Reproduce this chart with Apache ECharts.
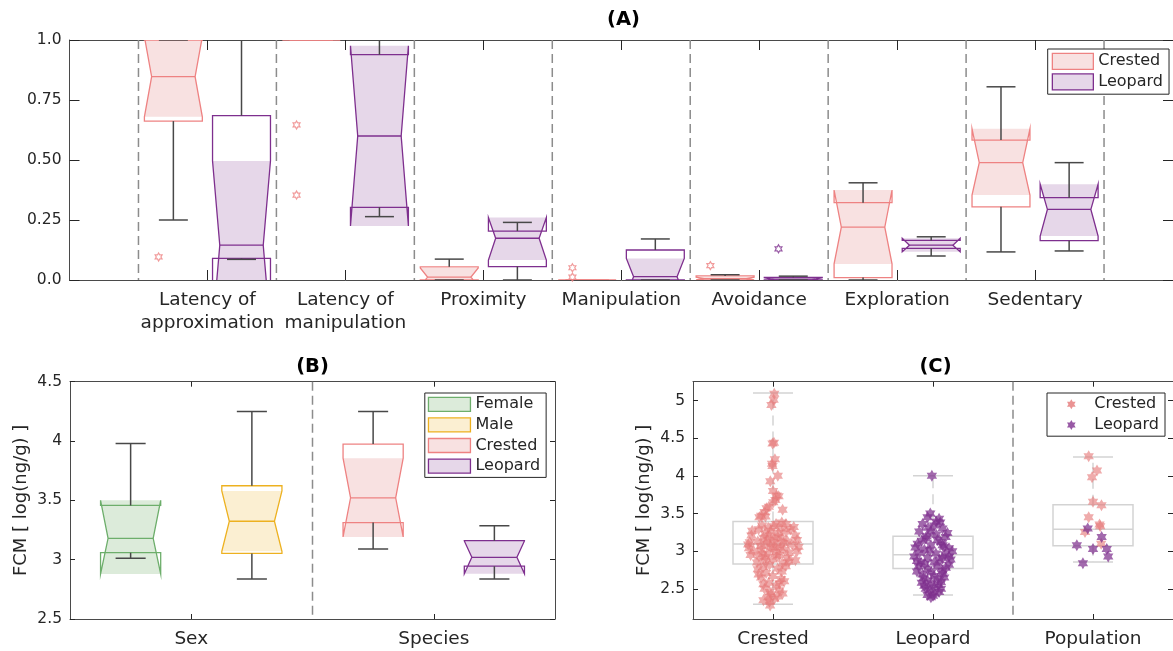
<!DOCTYPE html>
<html><head><meta charset="utf-8">
<script src="https://cdn.jsdelivr.net/npm/echarts@6/dist/echarts.min.js"></script>
<style>html,body{margin:0;padding:0;background:#fff}#c{width:1173px;height:651px}</style>
</head><body><div id="c"></div>
<script>
// ---------- DATA ----------
// Panel A
const catsA = ['Latency of\napproximation','Latency of\nmanipulation','Proximity','Manipulation','Avoidance','Exploration','Sedentary'];
const yTicksA = [0, 0.25, 0.5, 0.75, 1];
const yLabelsA = ['0.0', '0.25', '0.50', '0.75', '1.0'];
// rows: [whiskerLow, q1, notchLow, median, notchHigh, q3, whiskerHigh]
const crestedA = [
  [0.25, 0.662, 0.68, 0.847, 1.014, 1.0, 1.0],
  [null, 1.0, 1.0, 1.0, 1.0, 1.0, null],
  [0.0, 0.0, -0.026, 0.012, 0.05, 0.055, 0.087],
  [null, 0, 0, 0, 0, 0, null],
  [0.0, 0.0, 0.0, 0.006, 0.012, 0.017, 0.022],
  [0.0, 0.01, 0.067, 0.22, 0.375, 0.322, 0.405],
  [0.117, 0.305, 0.354, 0.489, 0.63, 0.583, 0.805]
];
const leopardA = [
  [0.086, 0.09, -0.206, 0.145, 0.496, 0.685, 1.0],
  [0.264, 0.303, 0.225, 0.6, 0.976, 0.939, 1.0],
  [0.0, 0.056, 0.083, 0.174, 0.26, 0.204, 0.24],
  [0.0, 0.0, -0.06, 0.014, 0.09, 0.125, 0.171],
  [0.0, 0.0, -0.002, 0.004, 0.01, 0.011, 0.016],
  [0.1, 0.132, 0.118, 0.145, 0.174, 0.165, 0.18],
  [0.121, 0.164, 0.183, 0.294, 0.399, 0.343, 0.489]
];
// outliers: [category number, value]
const crestedOutA = [[1, 0.096], [2, 0.646], [2, 0.354], [4, 0.051], [4, 0.012], [5, 0.06]];
const leopardOutA = [[5, 0.13]];
const sepA = [0.5, 1.5, 2.5, 3.5, 4.5, 5.5, 6.5, 7.5];

// Panel B
const catsB = ['Sex', 'Species'];
const yTicksB = [2.5, 3, 3.5, 4, 4.5];
const femaleB = [3.012, 3.059, 2.88, 3.18, 3.50, 3.457, 3.98];
const maleB = [2.837, 3.053, 3.07, 3.324, 3.579, 3.623, 4.248];
const crestedB = [3.089, 3.313, 3.192, 3.521, 3.855, 3.974, 4.248];
const leopardB = [2.837, 2.945, 2.882, 3.02, 3.158, 3.16, 3.286];
const sepB = [1.5];

// Panel C
const catsC = ['Crested', 'Leopard', 'Population'];
const yTicksC = [2.5, 3, 3.5, 4, 4.5, 5];
// [whiskerLow, q1, median, q3, whiskerHigh]
const boxC = [
  [2.295, 2.83, 3.096, 3.395, 5.1],
  [2.42, 2.77, 2.953, 3.2, 4.0],
  [2.857, 3.074, 3.29, 3.615, 4.25]
];
const sepC = [2.5];
// points: [horizontal jitter, value]
const crestedPtsC = [
  [0.008,5.09],[0.004,5.01],[-0.01,4.94],[-0.003,4.43],[0.006,4.44],[0.012,4.22],[-0.006,4.16],[-0.003,4.13],
  [0.03,4.00],[-0.017,3.93],[0.0,3.80],[0.035,3.73],[0.023,3.74],[0.015,3.68],[0.002,3.65],[-0.026,3.59],
  [-0.04,3.57],[-0.053,3.52],[0.06,3.55],[-0.074,3.47],[-0.047,3.46],[-0.085,3.45],
  [-0.068,3.34],[0.019,3.36],[0.081,3.36],[0.05,3.30],[0.13,3.32],[-0.03,3.31],[-0.135,3.21],[-0.022,3.21],
  [0.14,3.21],[0.035,3.24],[0.009,3.17],[0.06,3.17],[-0.06,3.18],[0.082,3.26],[-0.095,3.13],[-0.043,3.10],
  [0.091,3.13],[0.029,3.08],[0.0,3.12],[-0.075,3.07],[-0.15,3.04],[-0.074,3.02],[-0.002,3.04],[0.07,3.02],
  [0.15,3.00],[0.045,3.05],[-0.033,2.97],[0.04,2.95],[-0.088,2.93],[0.091,2.91],[-0.002,2.89],[-0.053,2.87],
  [0.06,2.84],[-0.022,2.82],[0.1,2.86],[-0.1,2.85],[0.018,2.99],[-0.015,3.27],[-0.05,3.23],[0.065,3.11],
  [-0.155,3.09],[0.15,3.15],[0.025,2.93],[-0.065,2.96],[0.08,2.80],[-0.035,3.15],[0.055,3.38],[-0.09,3.29],
  [0.005,3.33],[0.1,2.98],[-0.045,2.92],[0.03,3.19],[-0.015,3.06],
  [0.16,3.06],[-0.14,2.95],[0.14,2.88],[-0.13,3.27],[0.11,3.29],[-0.145,3.12],[0.12,3.09],[-0.12,3.00],
  [-0.095,2.76],[0.029,2.77],[-0.06,2.79],[-0.043,2.71],[0.055,2.73],[-0.002,2.67],[-0.074,2.65],[0.05,2.63],
  [-0.09,2.69],[0.07,2.60],[-0.026,2.58],[-0.06,2.56],[0.019,2.54],[0.04,2.57],[-0.053,2.50],[0.04,2.48],
  [-0.02,2.46],[-0.012,2.43],[0.06,2.44],[0.009,2.37],[-0.03,2.39],[0.03,2.40],[-0.022,2.33],[-0.018,2.28],[-0.06,2.35]
];
const leopardPtsC = [
  [-0.007,4.00],
  [-0.017,3.50],[-0.034,3.45],[0.038,3.43],[-0.065,3.36],[0.007,3.34],[0.059,3.30],[-0.086,3.26],[-0.013,3.26],
  [0.079,3.19],[-0.044,3.17],[0.028,3.15],[-0.096,3.10],[-0.013,3.08],[0.069,3.06],[-0.054,3.02],[0.12,3.00],
  [0.018,2.97],[-0.117,2.93],[-0.034,2.91],[0.059,2.91],[-0.075,2.85],[0.007,2.85],[0.1,2.82],[-0.034,2.76],
  [0.059,2.74],[-0.065,2.69],[0.007,2.67],[-0.034,2.61],[0.049,2.59],[-0.054,2.54],[0.007,2.52],[-0.023,2.48],
  [0.038,2.46],[-0.034,2.42],[-0.013,2.39],
  [0.045,3.38],[-0.03,3.31],[0.09,3.24],[0.02,3.22],[-0.07,3.14],[0.05,3.12],[-0.11,3.05],[0.1,3.04],
  [-0.02,3.01],[0.075,2.96],[-0.085,2.98],[0.04,2.88],[-0.1,2.87],[0.11,2.89],[-0.05,2.83],[0.03,2.80],
  [0.08,2.78],[-0.09,2.80],[-0.01,2.72],[0.06,2.70],[-0.1,2.73],[0.1,2.93],[-0.06,2.64],[0.03,2.63],
  [0.07,2.65],[-0.01,2.57],[0.035,2.55],[-0.07,2.58],[0.01,2.44],[0.05,2.50],[-0.045,2.50],[0.0,2.41],
  [0.02,3.39],[-0.04,3.20],[0.06,3.08]
];
const popCrestedC = [[-0.027,4.26],[0.025,4.07],[-0.006,3.98],[0.0,3.655],[0.053,3.61],[-0.027,3.45],[0.041,3.355],[0.045,3.33],[-0.05,3.255],[0.051,3.10]];
const popLeopardC = [[-0.033,3.30],[0.054,3.19],[-0.101,3.08],[0.0,3.03],[0.086,3.03],[0.095,2.93],[-0.063,2.84]];

// ---------- STYLE ----------
const FONT = 'DejaVu Sans';
const TXT = '#262626';
const FRAME = '#4a4a4a';
const COL = {
  crested: {stroke: '#EE8282', fill: '#F8E1E1'},
  leopard: {stroke: '#7E2F8E', fill: '#E6D7E9'},
  female:  {stroke: '#6DAE6B', fill: '#DCEBDA'},
  male:    {stroke: '#EDB120', fill: '#FBEFD2'}
};
const HEX = 'path://M0,-10L2.887,-5L8.660,-5L5.774,0L8.660,5L2.887,5L0,10L-2.887,5L-8.660,5L-5.774,0L-8.660,-5L-2.887,-5Z';

// ---------- RENDERERS ----------
function notchRenderer(halfW, c) {
  return function (params, api) {
    const x = api.value(0), wlo = api.value(1), q1 = api.value(2), nlo = api.value(3),
          med = api.value(4), nhi = api.value(5), q3 = api.value(6), whi = api.value(7);
    const w = halfW, nw = halfW * 0.75, cw = halfW * 0.5;
    const P = (a, b) => api.coord([a, b]);
    const outline = [P(x-w,q1),P(x-w,nlo),P(x-nw,med),P(x-w,nhi),P(x-w,q3),P(x+w,q3),P(x+w,nhi),P(x+nw,med),P(x+w,nlo),P(x+w,q1)];
    const patch = [P(x-w,nlo),P(x-nw,med),P(x-w,nhi),P(x+w,nhi),P(x+nw,med),P(x+w,nlo)];
    const seg = (a, b, style) => ({type: 'line', shape: {x1: a[0], y1: a[1], x2: b[0], y2: b[1]}, style});
    const ws = {stroke: '#484848', lineWidth: 1.5};
    const ch = [
      {type: 'polygon', shape: {points: patch}, style: {fill: c.fill, stroke: null}},
      {type: 'polygon', shape: {points: outline}, style: {fill: null, stroke: c.stroke, lineWidth: 1.3}},
      seg(P(x-nw,med), P(x+nw,med), {stroke: c.stroke, lineWidth: 1.3})
    ];
    if (!isNaN(whi)) { ch.push(seg(P(x,q3), P(x,whi), ws)); ch.push(seg(P(x-cw,whi), P(x+cw,whi), ws)); }
    if (!isNaN(wlo)) { ch.push(seg(P(x,q1), P(x,wlo), ws)); ch.push(seg(P(x-cw,wlo), P(x+cw,wlo), ws)); }
    return {type: 'group', children: ch};
  };
}
function plainBoxRenderer(halfW) {
  return function (params, api) {
    const x = api.value(0), wlo = api.value(1), q1 = api.value(2), med = api.value(3), q3 = api.value(4), whi = api.value(5);
    const P = (a, b) => api.coord([a, b]);
    const seg = (a, b, style) => ({type: 'line', shape: {x1: a[0], y1: a[1], x2: b[0], y2: b[1]}, style});
    const g = '#d3d3d3';
    const s = {stroke: g, lineWidth: 1.5};
    const d = {stroke: g, lineWidth: 1.5, lineDash: [10, 6]};
    const cw = halfW * 0.5;
    return {type: 'group', children: [
      {type: 'polygon', shape: {points: [P(x-halfW,q1),P(x-halfW,q3),P(x+halfW,q3),P(x+halfW,q1)]}, style: {fill: null, stroke: g, lineWidth: 1.5}},
      seg(P(x-halfW,med), P(x+halfW,med), s),
      seg(P(x,q3), P(x,whi), d), seg(P(x-cw,whi), P(x+cw,whi), s),
      seg(P(x,q1), P(x,wlo), d), seg(P(x-cw,wlo), P(x+cw,wlo), s)
    ]};
  };
}
function sepRenderer(params, api) {
  const cs = params.coordSys;
  const x = api.coord([api.value(0), 0])[0];
  return {type: 'line', shape: {x1: x, y1: cs.y, x2: x, y2: cs.y + cs.height},
          style: {stroke: '#8c8c8c', lineWidth: 1.5, lineDash: [9, 5]}};
}

// ---------- AXES ----------
const xAxes = [], yAxes = [];
function addAxes(gi, xmin, xmax, xticks, xfmt, ymin, ymax, yticks, yfmt, tickLen, yName) {
  const lineS = {show: true, onZero: false, lineStyle: {color: FRAME, width: 1}};
  const tickS = {show: true, inside: true, length: tickLen, customValues: xticks, lineStyle: {color: TXT, width: 1}};
  xAxes.push({gridIndex: gi, type: 'value', position: 'bottom', min: xmin, max: xmax, axisLine: lineS, splitLine: {show: false},
    axisTick: tickS,
    axisLabel: {customValues: xticks, formatter: xfmt, color: TXT, fontSize: 18.5, fontFamily: FONT, margin: 9, lineHeight: 23}});
  xAxes.push({gridIndex: gi, type: 'value', position: 'top', min: xmin, max: xmax, axisLine: lineS, splitLine: {show: false},
    axisTick: tickS, axisLabel: {show: false}});
  const ytickS = {show: true, inside: true, length: tickLen, customValues: yticks, lineStyle: {color: TXT, width: 1}};
  yAxes.push({gridIndex: gi, type: 'value', position: 'left', min: ymin, max: ymax, axisLine: lineS, splitLine: {show: false},
    axisTick: ytickS,
    axisLabel: {customValues: yticks, formatter: yfmt, color: TXT, fontSize: 15.5, fontFamily: FONT, margin: 8},
    name: yName || '', nameLocation: 'middle', nameGap: 40, nameRotate: 90,
    nameTextStyle: {color: TXT, fontSize: 18, fontFamily: FONT}});
  yAxes.push({gridIndex: gi, type: 'value', position: 'right', min: ymin, max: ymax, axisLine: lineS, splitLine: {show: false},
    axisTick: ytickS, axisLabel: {show: false}});
}
addAxes(0, 0, 8, catsA.map((c, i) => i + 1), v => catsA[Math.round(v) - 1], 0, 1, yTicksA,
  v => yLabelsA[yTicksA.findIndex(t => Math.abs(t - v) < 1e-9)], 10, '');
addAxes(1, 0.5, 2.5, catsB.map((c, i) => i + 1), v => catsB[Math.round(v) - 1], 2.5, 4.5, yTicksB,
  v => String(v), 5, 'FCM [ log(ng/g) ]');
addAxes(2, 0.5, 3.5, catsC.map((c, i) => i + 1), v => catsC[Math.round(v) - 1], 2.1, 5.25, yTicksC,
  v => String(v), 5, 'FCM [ log(ng/g) ]');

// ---------- SERIES ----------
const OFF_A = 0.247, HW_A = 0.21, OUT_SHIFT = -0.107;
const OFF_B = 0.25, HW_B = 0.124;
const HW_C = 0.25;
const series = [
  {type: 'custom', name: 'sepA', xAxisIndex: 0, yAxisIndex: 0, renderItem: sepRenderer, data: sepA.map(v => [v]), z: 1, silent: true},
  {type: 'custom', name: 'Crested', xAxisIndex: 0, yAxisIndex: 0, clip: true, renderItem: notchRenderer(HW_A, COL.crested),
    data: crestedA.map((r, i) => [i + 1 - OFF_A, ...r.map(v => v === null ? NaN : v)]), z: 2},
  {type: 'custom', name: 'Leopard', xAxisIndex: 0, yAxisIndex: 0, clip: true, renderItem: notchRenderer(HW_A, COL.leopard),
    data: leopardA.map((r, i) => [i + 1 + OFF_A, ...r]), z: 2},
  {type: 'scatter', name: 'outCrestedA', xAxisIndex: 0, yAxisIndex: 0, symbol: HEX, symbolSize: 8, symbolKeepAspect: true,
    itemStyle: {color: 'rgba(0,0,0,0)', borderColor: COL.crested.stroke, borderWidth: 1.2},
    data: crestedOutA.map(p => [p[0] - OFF_A + OUT_SHIFT, p[1]]), z: 3},
  {type: 'scatter', name: 'outLeopardA', xAxisIndex: 0, yAxisIndex: 0, symbol: HEX, symbolSize: 8, symbolKeepAspect: true,
    itemStyle: {color: 'rgba(0,0,0,0)', borderColor: COL.leopard.stroke, borderWidth: 1.2},
    data: leopardOutA.map(p => [p[0] + OFF_A + OUT_SHIFT, p[1]]), z: 3},

  {type: 'custom', name: 'sepB', xAxisIndex: 2, yAxisIndex: 2, renderItem: sepRenderer, data: sepB.map(v => [v]), z: 1, silent: true},
  {type: 'custom', name: 'Female', xAxisIndex: 2, yAxisIndex: 2, clip: true, renderItem: notchRenderer(HW_B, COL.female), data: [[1 - OFF_B, ...femaleB]], z: 2},
  {type: 'custom', name: 'Male', xAxisIndex: 2, yAxisIndex: 2, clip: true, renderItem: notchRenderer(HW_B, COL.male), data: [[1 + OFF_B, ...maleB]], z: 2},
  {type: 'custom', name: 'Crested', xAxisIndex: 2, yAxisIndex: 2, clip: true, renderItem: notchRenderer(HW_B, COL.crested), data: [[2 - OFF_B, ...crestedB]], z: 2},
  {type: 'custom', name: 'Leopard', xAxisIndex: 2, yAxisIndex: 2, clip: true, renderItem: notchRenderer(HW_B, COL.leopard), data: [[2 + OFF_B, ...leopardB]], z: 2},

  {type: 'custom', name: 'sepC', xAxisIndex: 4, yAxisIndex: 4, renderItem: sepRenderer, data: sepC.map(v => [v]), z: 1, silent: true},
  {type: 'custom', name: 'boxC', xAxisIndex: 4, yAxisIndex: 4, clip: true, renderItem: plainBoxRenderer(HW_C),
    data: boxC.map((r, i) => [i + 1, ...r]), z: 2},
  {type: 'scatter', name: 'Crested', xAxisIndex: 4, yAxisIndex: 4, symbol: HEX, symbolSize: 12, symbolKeepAspect: true,
    itemStyle: {color: '#E57878', opacity: 0.62},
    data: crestedPtsC.map(p => [1 + p[0], p[1]]).concat(popCrestedC.map(p => [3 + p[0], p[1]])), z: 3},
  {type: 'scatter', name: 'Leopard', xAxisIndex: 4, yAxisIndex: 4, symbol: HEX, symbolSize: 12, symbolKeepAspect: true,
    itemStyle: {color: '#7E2F8E', opacity: 0.72},
    data: leopardPtsC.map(p => [2 + p[0], p[1]]).concat(popLeopardC.map(p => [3 + p[0], p[1]])), z: 3}
];

const legendBase = {orient: 'vertical', selectedMode: false, borderColor: '#262626', borderWidth: 1, backgroundColor: '#fff',
  textStyle: {fontSize: 16, lineHeight: 20.6, color: TXT, fontFamily: FONT}, z: 10};
const patchItem = (name, c) => ({name, icon: 'rect', itemStyle: {color: c.fill, borderColor: c.stroke, borderWidth: 1.3}});

const option = {
  animation: false,
  textStyle: {fontFamily: FONT},
  grid: [
    {left: 69.5, top: 40, width: 1108, height: 240},
    {left: 70, top: 381.7, width: 485, height: 241},
    {left: 693, top: 381.7, width: 485, height: 241}
  ],
  xAxis: xAxes,
  yAxis: yAxes,
  legend: [
    Object.assign({}, legendBase, {left: 1047.7, top: 49, itemWidth: 41, itemHeight: 16, itemGap: 0, padding: [2, 6, 2, 4],
      data: [patchItem('Crested', COL.crested), patchItem('Leopard', COL.leopard)]}),
    Object.assign({}, legendBase, {left: 424.8, top: 393, itemWidth: 42, itemHeight: 14, itemGap: 0, padding: [1, 6, 1, 3],
      data: [patchItem('Female', COL.female), patchItem('Male', COL.male), patchItem('Crested', COL.crested), patchItem('Leopard', COL.leopard)]}),
    Object.assign({}, legendBase, {left: 1047, top: 393, itemWidth: 10, itemHeight: 10, itemGap: 0, padding: [1, 6, 1, 20],
      textStyle: Object.assign({}, legendBase.textStyle, {padding: [0, 0, 0, 13]}),
      data: [{name: 'Crested', icon: HEX, itemStyle: {color: '#E57878', opacity: 0.8, borderWidth: 0}},
             {name: 'Leopard', icon: HEX, itemStyle: {color: '#7E2F8E', opacity: 0.8, borderWidth: 0}}]})
  ],
  graphic: [
    {type: 'text', x: 623.5, y: 20, style: {text: '(A)', fill: '#000', font: 'bold 19.5px "DejaVu Sans"', textAlign: 'center', textVerticalAlign: 'middle'}},
    {type: 'text', x: 312.5, y: 366.5, style: {text: '(B)', fill: '#000', font: 'bold 19.5px "DejaVu Sans"', textAlign: 'center', textVerticalAlign: 'middle'}},
    {type: 'text', x: 935.5, y: 366.5, style: {text: '(C)', fill: '#000', font: 'bold 19.5px "DejaVu Sans"', textAlign: 'center', textVerticalAlign: 'middle'}}
  ],
  series
};
const chart = echarts.init(document.getElementById('c'));
chart.setOption(option);
</script></body></html>
